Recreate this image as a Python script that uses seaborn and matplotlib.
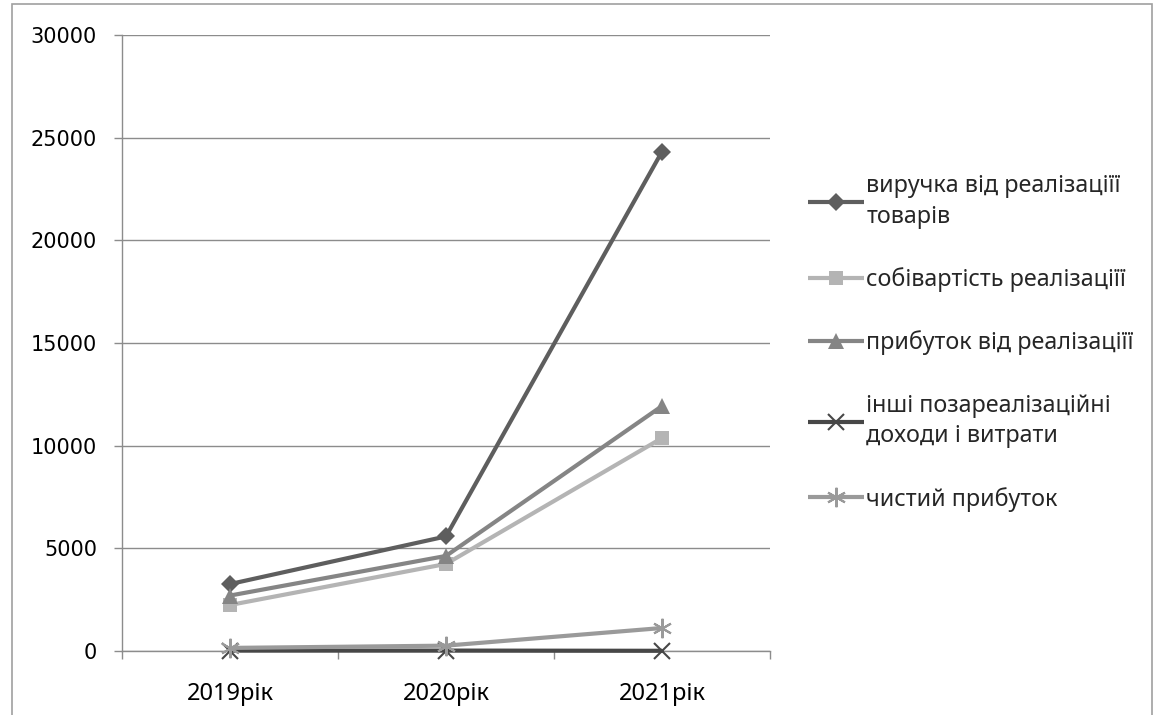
import matplotlib
matplotlib.use("Agg")
import matplotlib.pyplot as plt
from matplotlib.patches import Rectangle
import seaborn as sns
import pandas as pd

years = ["2019рік", "2020рік", "2021рік"]
series_names = [
    "виручка від реалізаціїї\nтоварів",
    "собівартість реалізаціїї",
    "прибуток від реалізаціїї",
    "інші позареалізаційні\nдоходи і витрати",
    "чистий прибуток",
]
revenue = [3260, 5580, 24320]
cost = [2240, 4240, 10370]
sales_profit = [2700, 4630, 11930]
other = [20, 20, 10]
net_profit = [150, 260, 1120]

values = [revenue, cost, sales_profit, other, net_profit]
colors = ["#5e5e5e", "#b4b4b4", "#858585", "#474747", "#9a9a9a"]
markers = ["D", "s", "^", "x", (6, 2, 0)]
msizes = [9, 10, 11, 12, 14]

rows = []
for name, vals in zip(series_names, values):
    for i, (y, v) in enumerate(zip(years, vals)):
        rows.append({"series": name, "pos": i, "year": y, "value": v})
df = pd.DataFrame(rows)

sns.set_theme(style="white")
plt.rcParams["font.family"] = ["Noto Sans", "DejaVu Sans"]

fig = plt.figure(figsize=(11.66, 7.15), dpi=100)
ax = fig.add_axes([122 / 1166, 1 - 651 / 715, (770 - 122) / 1166, (651 - 35) / 715])

for name, c, mk, ms in zip(series_names, colors, markers, msizes):
    sub = df[df["series"] == name]
    unfilled = mk == "x" or isinstance(mk, tuple)
    sns.lineplot(
        data=sub, x="pos", y="value", color=c, marker=mk, markersize=ms,
        markerfacecolor=c, markeredgecolor=c,
        markeredgewidth=1.5 if unfilled else 0,
        linewidth=3, legend=False, ax=ax, zorder=3, clip_on=False,
    )

for line in ax.lines:
    line.set_solid_capstyle("butt")

ax.set_xlim(-0.5, 2.5)
ax.set_ylim(0, 30000)
ax.set_yticks(range(0, 30001, 5000))
ax.set_xticks(range(len(years)))
ax.set_xticklabels(years)
ax.set_xticks([-0.5, 0.5, 1.5, 2.5], minor=True)
ax.set_xlabel("")
ax.set_ylabel("")

grid_c = "#8c8c8c"
ax.yaxis.grid(True, color=grid_c, linewidth=1)
ax.xaxis.grid(False)
ax.set_axisbelow(True)
for s in ["top", "right"]:
    ax.spines[s].set_visible(False)
for s in ["left", "bottom"]:
    ax.spines[s].set_color(grid_c)
    ax.spines[s].set_linewidth(1)

ax.tick_params(axis="y", which="major", direction="out", length=6, width=1,
               color=grid_c, pad=12, labelsize=15, labelcolor="black",
               left=True)
for lab in ax.get_yticklabels():
    lab.set_family(["DejaVu Sans"])
ax.tick_params(axis="x", which="major", length=0, pad=22, labelsize=17,
               labelcolor="black")
ax.tick_params(axis="x", which="minor", direction="out", length=6, width=1,
               color=grid_c, bottom=True)

leg = fig.legend(
    ax.lines[:5], series_names, loc="center left",
    bbox_to_anchor=(808 / 1166, 1 - 343 / 715), frameon=False,
    fontsize=16.8, handlelength=2.4, handletextpad=0.1, labelspacing=1.65,
    borderaxespad=0, borderpad=0,
)
for t in leg.get_texts():
    t.set_linespacing(1.35)

fig.patches.append(Rectangle((12 / 1166, -0.02), (1152 - 12) / 1166, 1 - 4 / 715 + 0.02,
                             transform=fig.transFigure, fill=False,
                             edgecolor="#a0a0a0", linewidth=1.2))

fig.savefig("out.png", dpi=100, facecolor="white")
